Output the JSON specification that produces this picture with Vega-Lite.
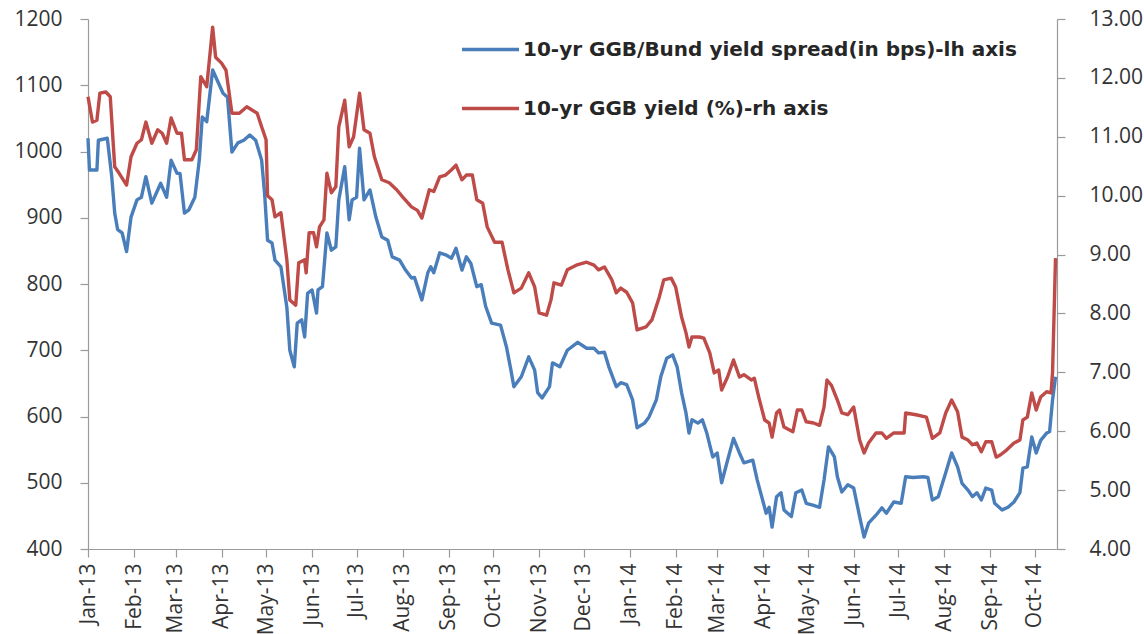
{
"$schema": "https://vega.github.io/schema/vega-lite/v6.json",
"width": 969,
"height": 530,
"autosize": {"type": "none"},
"padding": {"left": 88, "top": 19, "right": 87, "bottom": 85},
"background": "white",
"config": {
  "view": {"stroke": null},
  "font": "Open Sans",
  "axis": {"domainColor": "#9a9a9a", "tickColor": "#9a9a9a", "grid": false, "labelColor": "#333333", "title": null, "tickSize": 8, "domainWidth": 1.2, "tickWidth": 1.2}
},
"datasets": {
"spread": [
{"date":"2013-01-01","value":1020},{"date":"2013-01-02","value":972},{"date":"2013-01-07","value":972},{"date":"2013-01-08","value":1017},{"date":"2013-01-14","value":1020},{"date":"2013-01-17","value":962},{"date":"2013-01-19","value":907},{"date":"2013-01-21","value":882},{"date":"2013-01-24","value":877},{"date":"2013-01-27","value":849},{"date":"2013-01-30","value":901},{"date":"2013-02-03","value":927},{"date":"2013-02-06","value":931},{"date":"2013-02-09","value":962},{"date":"2013-02-13","value":922},{"date":"2013-02-16","value":937},{"date":"2013-02-19","value":952},{"date":"2013-02-23","value":931},{"date":"2013-02-26","value":987},{"date":"2013-03-02","value":967},{"date":"2013-03-04","value":967},{"date":"2013-03-07","value":907},{"date":"2013-03-10","value":912},{"date":"2013-03-14","value":931},{"date":"2013-03-17","value":987},{"date":"2013-03-19","value":1052},{"date":"2013-03-22","value":1045},{"date":"2013-03-26","value":1123},{"date":"2013-03-29","value":1108},{"date":"2013-04-02","value":1088},{"date":"2013-04-05","value":1082},{"date":"2013-04-08","value":999},{"date":"2013-04-12","value":1013},{"date":"2013-04-16","value":1017},{"date":"2013-04-20","value":1025},{"date":"2013-04-24","value":1017},{"date":"2013-04-28","value":987},{"date":"2013-04-30","value":937},{"date":"2013-05-02","value":866},{"date":"2013-05-05","value":862},{"date":"2013-05-07","value":836},{"date":"2013-05-11","value":826},{"date":"2013-05-15","value":765},{"date":"2013-05-17","value":700},{"date":"2013-05-20","value":675},{"date":"2013-05-22","value":741},{"date":"2013-05-25","value":746},{"date":"2013-05-27","value":720},{"date":"2013-05-29","value":786},{"date":"2013-06-01","value":791},{"date":"2013-06-04","value":756},{"date":"2013-06-05","value":791},{"date":"2013-06-08","value":796},{"date":"2013-06-11","value":877},{"date":"2013-06-14","value":851},{"date":"2013-06-17","value":856},{"date":"2013-06-19","value":927},{"date":"2013-06-23","value":977},{"date":"2013-06-26","value":897},{"date":"2013-06-28","value":927},{"date":"2013-07-01","value":931},{"date":"2013-07-03","value":1005},{"date":"2013-07-06","value":927},{"date":"2013-07-10","value":942},{"date":"2013-07-14","value":901},{"date":"2013-07-18","value":871},{"date":"2013-07-22","value":866},{"date":"2013-07-25","value":841},{"date":"2013-07-30","value":836},{"date":"2013-08-03","value":821},{"date":"2013-08-07","value":809},{"date":"2013-08-09","value":810},{"date":"2013-08-14","value":776},{"date":"2013-08-18","value":817},{"date":"2013-08-20","value":826},{"date":"2013-08-22","value":817},{"date":"2013-08-26","value":847},{"date":"2013-08-30","value":844},{"date":"2013-09-03","value":839},{"date":"2013-09-06","value":854},{"date":"2013-09-10","value":821},{"date":"2013-09-13","value":841},{"date":"2013-09-16","value":831},{"date":"2013-09-20","value":796},{"date":"2013-09-23","value":799},{"date":"2013-09-26","value":766},{"date":"2013-09-30","value":741},{"date":"2013-10-06","value":738},{"date":"2013-10-10","value":705},{"date":"2013-10-13","value":670},{"date":"2013-10-15","value":645},{"date":"2013-10-20","value":660},{"date":"2013-10-25","value":690},{"date":"2013-10-29","value":670},{"date":"2013-10-31","value":636},{"date":"2013-11-03","value":628},{"date":"2013-11-08","value":645},{"date":"2013-11-10","value":681},{"date":"2013-11-15","value":675},{"date":"2013-11-20","value":700},{"date":"2013-11-27","value":712},{"date":"2013-12-03","value":703},{"date":"2013-12-08","value":703},{"date":"2013-12-11","value":696},{"date":"2013-12-15","value":697},{"date":"2013-12-18","value":675},{"date":"2013-12-23","value":645},{"date":"2013-12-26","value":651},{"date":"2013-12-30","value":648},{"date":"2014-01-03","value":625},{"date":"2014-01-06","value":583},{"date":"2014-01-11","value":590},{"date":"2014-01-14","value":599},{"date":"2014-01-19","value":625},{"date":"2014-01-22","value":660},{"date":"2014-01-26","value":688},{"date":"2014-01-30","value":693},{"date":"2014-02-02","value":675},{"date":"2014-02-05","value":636},{"date":"2014-02-08","value":605},{"date":"2014-02-10","value":575},{"date":"2014-02-12","value":595},{"date":"2014-02-16","value":590},{"date":"2014-02-19","value":595},{"date":"2014-02-22","value":575},{"date":"2014-02-26","value":539},{"date":"2014-03-01","value":545},{"date":"2014-03-04","value":500},{"date":"2014-03-08","value":534},{"date":"2014-03-12","value":567},{"date":"2014-03-16","value":545},{"date":"2014-03-19","value":530},{"date":"2014-03-25","value":534},{"date":"2014-03-28","value":504},{"date":"2014-03-31","value":479},{"date":"2014-04-03","value":454},{"date":"2014-04-05","value":463},{"date":"2014-04-07","value":433},{"date":"2014-04-10","value":479},{"date":"2014-04-13","value":485},{"date":"2014-04-15","value":459},{"date":"2014-04-20","value":449},{"date":"2014-04-23","value":485},{"date":"2014-04-27","value":489},{"date":"2014-04-30","value":469},{"date":"2014-05-05","value":466},{"date":"2014-05-09","value":463},{"date":"2014-05-12","value":504},{"date":"2014-05-15","value":554},{"date":"2014-05-19","value":539},{"date":"2014-05-21","value":509},{"date":"2014-05-24","value":486},{"date":"2014-05-28","value":497},{"date":"2014-06-01","value":492},{"date":"2014-06-05","value":449},{"date":"2014-06-08","value":418},{"date":"2014-06-11","value":439},{"date":"2014-06-16","value":451},{"date":"2014-06-20","value":462},{"date":"2014-06-23","value":454},{"date":"2014-06-28","value":471},{"date":"2014-07-03","value":469},{"date":"2014-07-06","value":509},{"date":"2014-07-11","value":508},{"date":"2014-07-18","value":509},{"date":"2014-07-21","value":508},{"date":"2014-07-24","value":474},{"date":"2014-07-28","value":479},{"date":"2014-08-02","value":515},{"date":"2014-08-06","value":545},{"date":"2014-08-10","value":524},{"date":"2014-08-13","value":499},{"date":"2014-08-17","value":489},{"date":"2014-08-20","value":479},{"date":"2014-08-23","value":485},{"date":"2014-08-26","value":474},{"date":"2014-08-29","value":492},{"date":"2014-09-02","value":489},{"date":"2014-09-04","value":469},{"date":"2014-09-09","value":459},{"date":"2014-09-13","value":463},{"date":"2014-09-17","value":471},{"date":"2014-09-21","value":485},{"date":"2014-09-23","value":522},{"date":"2014-09-26","value":524},{"date":"2014-09-29","value":569},{"date":"2014-10-02","value":545},{"date":"2014-10-05","value":564},{"date":"2014-10-09","value":575},{"date":"2014-10-11","value":577},{"date":"2014-10-13","value":625},{"date":"2014-10-15","value":660}
],
"yield": [
{"date":"2013-01-01","value":11.68},{"date":"2013-01-04","value":11.25},{"date":"2013-01-07","value":11.28},{"date":"2013-01-09","value":11.74},{"date":"2013-01-13","value":11.76},{"date":"2013-01-16","value":11.68},{"date":"2013-01-19","value":10.49},{"date":"2013-01-22","value":10.38},{"date":"2013-01-27","value":10.18},{"date":"2013-01-30","value":10.66},{"date":"2013-02-03","value":10.89},{"date":"2013-02-06","value":10.95},{"date":"2013-02-09","value":11.25},{"date":"2013-02-13","value":10.89},{"date":"2013-02-17","value":11.12},{"date":"2013-02-20","value":11.06},{"date":"2013-02-23","value":10.89},{"date":"2013-02-26","value":11.32},{"date":"2013-03-02","value":11.06},{"date":"2013-03-05","value":11.06},{"date":"2013-03-07","value":10.61},{"date":"2013-03-12","value":10.61},{"date":"2013-03-15","value":10.78},{"date":"2013-03-18","value":12.02},{"date":"2013-03-22","value":11.85},{"date":"2013-03-26","value":12.86},{"date":"2013-03-28","value":12.35},{"date":"2013-04-01","value":12.25},{"date":"2013-04-04","value":12.13},{"date":"2013-04-08","value":11.40},{"date":"2013-04-13","value":11.40},{"date":"2013-04-18","value":11.51},{"date":"2013-04-25","value":11.40},{"date":"2013-04-28","value":11.17},{"date":"2013-05-01","value":10.95},{"date":"2013-05-02","value":10.0},{"date":"2013-05-05","value":9.93},{"date":"2013-05-07","value":9.64},{"date":"2013-05-11","value":9.71},{"date":"2013-05-15","value":8.91},{"date":"2013-05-17","value":8.23},{"date":"2013-05-21","value":8.14},{"date":"2013-05-23","value":8.86},{"date":"2013-05-27","value":8.91},{"date":"2013-05-28","value":8.69},{"date":"2013-05-30","value":9.37},{"date":"2013-06-02","value":9.37},{"date":"2013-06-04","value":9.13},{"date":"2013-06-06","value":9.47},{"date":"2013-06-09","value":9.59},{"date":"2013-06-11","value":10.38},{"date":"2013-06-14","value":10.05},{"date":"2013-06-17","value":10.15},{"date":"2013-06-19","value":11.17},{"date":"2013-06-23","value":11.62},{"date":"2013-06-26","value":10.83},{"date":"2013-06-29","value":11.0},{"date":"2013-07-03","value":11.74},{"date":"2013-07-06","value":11.12},{"date":"2013-07-10","value":11.06},{"date":"2013-07-13","value":10.66},{"date":"2013-07-18","value":10.27},{"date":"2013-07-23","value":10.22},{"date":"2013-07-28","value":10.10},{"date":"2013-08-01","value":9.98},{"date":"2013-08-07","value":9.81},{"date":"2013-08-11","value":9.75},{"date":"2013-08-14","value":9.62},{"date":"2013-08-19","value":10.10},{"date":"2013-08-22","value":10.07},{"date":"2013-08-26","value":10.32},{"date":"2013-08-30","value":10.35},{"date":"2013-09-03","value":10.44},{"date":"2013-09-06","value":10.52},{"date":"2013-09-10","value":10.27},{"date":"2013-09-13","value":10.35},{"date":"2013-09-17","value":10.35},{"date":"2013-09-20","value":9.93},{"date":"2013-09-24","value":9.87},{"date":"2013-09-27","value":9.47},{"date":"2013-10-02","value":9.21},{"date":"2013-10-07","value":9.21},{"date":"2013-10-11","value":8.74},{"date":"2013-10-15","value":8.35},{"date":"2013-10-20","value":8.43},{"date":"2013-10-25","value":8.69},{"date":"2013-10-29","value":8.45},{"date":"2013-11-01","value":8.01},{"date":"2013-11-06","value":7.97},{"date":"2013-11-09","value":8.23},{"date":"2013-11-11","value":8.52},{"date":"2013-11-16","value":8.48},{"date":"2013-11-20","value":8.74},{"date":"2013-11-26","value":8.82},{"date":"2013-12-03","value":8.87},{"date":"2013-12-08","value":8.82},{"date":"2013-12-11","value":8.74},{"date":"2013-12-15","value":8.79},{"date":"2013-12-20","value":8.57},{"date":"2013-12-23","value":8.35},{"date":"2013-12-26","value":8.43},{"date":"2013-12-30","value":8.36},{"date":"2014-01-03","value":8.18},{"date":"2014-01-06","value":7.72},{"date":"2014-01-12","value":7.77},{"date":"2014-01-16","value":7.89},{"date":"2014-01-21","value":8.28},{"date":"2014-01-24","value":8.57},{"date":"2014-01-29","value":8.60},{"date":"2014-02-01","value":8.45},{"date":"2014-02-05","value":7.94},{"date":"2014-02-08","value":7.67},{"date":"2014-02-10","value":7.43},{"date":"2014-02-12","value":7.60},{"date":"2014-02-17","value":7.60},{"date":"2014-02-20","value":7.58},{"date":"2014-02-24","value":7.33},{"date":"2014-02-27","value":6.99},{"date":"2014-03-02","value":7.04},{"date":"2014-03-04","value":6.70},{"date":"2014-03-08","value":6.92},{"date":"2014-03-12","value":7.21},{"date":"2014-03-16","value":6.92},{"date":"2014-03-19","value":6.96},{"date":"2014-03-24","value":6.87},{"date":"2014-03-26","value":6.90},{"date":"2014-03-29","value":6.58},{"date":"2014-04-02","value":6.19},{"date":"2014-04-05","value":6.14},{"date":"2014-04-07","value":5.90},{"date":"2014-04-10","value":6.31},{"date":"2014-04-12","value":6.36},{"date":"2014-04-15","value":6.07},{"date":"2014-04-21","value":5.99},{"date":"2014-04-24","value":6.36},{"date":"2014-04-27","value":6.36},{"date":"2014-04-30","value":6.16},{"date":"2014-05-05","value":6.14},{"date":"2014-05-09","value":6.10},{"date":"2014-05-12","value":6.41},{"date":"2014-05-14","value":6.87},{"date":"2014-05-17","value":6.78},{"date":"2014-05-21","value":6.53},{"date":"2014-05-24","value":6.31},{"date":"2014-05-28","value":6.28},{"date":"2014-06-01","value":6.41},{"date":"2014-06-05","value":5.85},{"date":"2014-06-08","value":5.63},{"date":"2014-06-11","value":5.80},{"date":"2014-06-16","value":5.97},{"date":"2014-06-20","value":5.97},{"date":"2014-06-23","value":5.88},{"date":"2014-06-28","value":5.97},{"date":"2014-07-05","value":5.97},{"date":"2014-07-06","value":6.31},{"date":"2014-07-13","value":6.28},{"date":"2014-07-20","value":6.24},{"date":"2014-07-24","value":5.88},{"date":"2014-07-29","value":5.97},{"date":"2014-08-02","value":6.31},{"date":"2014-08-06","value":6.53},{"date":"2014-08-10","value":6.33},{"date":"2014-08-13","value":5.90},{"date":"2014-08-17","value":5.85},{"date":"2014-08-20","value":5.77},{"date":"2014-08-23","value":5.80},{"date":"2014-08-26","value":5.65},{"date":"2014-08-29","value":5.82},{"date":"2014-09-02","value":5.82},{"date":"2014-09-05","value":5.56},{"date":"2014-09-08","value":5.60},{"date":"2014-09-12","value":5.68},{"date":"2014-09-17","value":5.80},{"date":"2014-09-21","value":5.85},{"date":"2014-09-23","value":6.19},{"date":"2014-09-26","value":6.24},{"date":"2014-09-29","value":6.65},{"date":"2014-10-02","value":6.36},{"date":"2014-10-05","value":6.58},{"date":"2014-10-09","value":6.67},{"date":"2014-10-12","value":6.65},{"date":"2014-10-13","value":7.0},{"date":"2014-10-15","value":8.94}
]
},
"encoding": {
  "x": {"field": "date", "type": "temporal",
    "scale": {"type": "utc", "domain": [{"year": 2013, "month": 1, "date": 1, "utc": true}, {"year": 2014, "month": 10, "date": 16, "utc": true}], "nice": false},
    "axis": {"labelExpr": "utcFormat(datum.value, '%b-%y')", "tickCount": {"interval": "month", "step": 1}, "labelAngle": -90, "labelFontSize": 21, "labelPadding": 6, "tickSize": 8, "labelOverlap": false, "labelFlush": false}}
},
"layer": [
  {
    "data": {"name": "spread"},
    "mark": {"type": "line", "strokeWidth": 3.4, "strokeJoin": "round"},
    "encoding": {
      "y": {"field": "value", "type": "quantitative",
        "scale": {"domain": [400, 1200], "nice": false, "zero": false},
        "axis": {"orient": "left", "values": [400,500,600,700,800,900,1000,1100,1200], "format": "d", "labelFontSize": 21, "labelPadding": 18, "labelFlush": false}},
      "color": {"datum": "10-yr GGB/Bund yield spread(in bps)-lh axis", "type": "nominal",
        "scale": {"domain": ["10-yr GGB/Bund yield spread(in bps)-lh axis", "10-yr GGB yield (%)-rh axis"], "range": ["#4a7ebb", "#be4b48"]},
        "legend": {"orient": "none", "legendX": 372, "legendY": 0, "title": null, "symbolType": "stroke", "symbolSize": 3249, "symbolStrokeWidth": 3.5, "labelFont": "DejaVu Sans", "labelFontSize": 20, "labelFontWeight": "bold", "labelColor": "#262626", "labelLimit": 800, "labelOffset": 2, "rowPadding": 18}}
    }
  },
  {
    "data": {"name": "yield"},
    "mark": {"type": "line", "strokeWidth": 3.4, "strokeJoin": "round"},
    "encoding": {
      "y": {"field": "value", "type": "quantitative",
        "scale": {"domain": [4, 13], "nice": false, "zero": false},
        "axis": {"orient": "right", "values": [4,5,6,7,8,9,10,11,12,13], "format": ".2f", "labelFontSize": 21, "labelPadding": 24, "labelFlush": false}},
      "color": {"datum": "10-yr GGB yield (%)-rh axis", "type": "nominal"}
    }
  }
],
"resolve": {"scale": {"y": "independent"}}
}
